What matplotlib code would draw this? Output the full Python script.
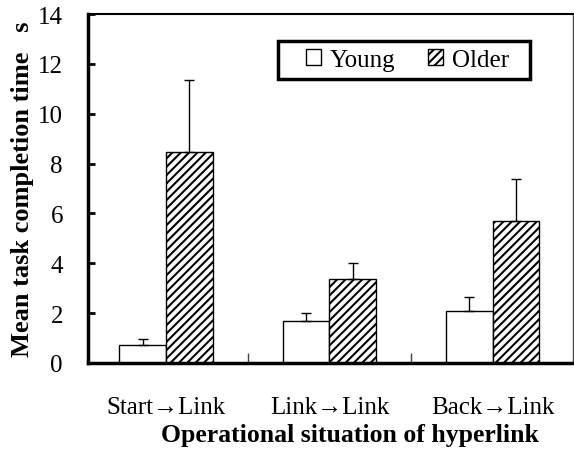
import numpy as np
import matplotlib.pyplot as plt
from matplotlib.patches import Rectangle

# Data
categories = ["Start\u2192Link", "Link\u2192Link", "Back\u2192Link"]
young = [0.72, 1.70, 2.08]
young_err = [0.24, 0.30, 0.57]
older = [8.47, 3.37, 5.70]
older_err = [2.90, 0.63, 1.67]

plt.rcParams['font.family'] = ['Liberation Serif', 'DejaVu Serif']
plt.rcParams['hatch.linewidth'] = 1.5
plt.rcParams['hatch.color'] = 'black'

fig = plt.figure(figsize=(5.74, 4.52), dpi=100)
ax = fig.add_axes([0.1533, 0.1947, 0.8447, 0.772])

x = np.arange(len(categories))
w = 0.285
err_kw = dict(elinewidth=1.0, capthick=1.0, ecolor='black')
ax.bar(x - w / 2, young, w, color='white', edgecolor='black', linewidth=1.0,
       yerr=[np.zeros(3), young_err], capsize=3.5, error_kw=err_kw, label='Young')
ax.bar(x + w / 2, older, w, color='white', edgecolor='black', linewidth=1.0,
       hatch='////', yerr=[np.zeros(3), older_err], capsize=3.5, error_kw=err_kw,
       label='Older')

ax.set_xlim(-0.477, 2.49)
ax.set_ylim(0, 14)
ax.set_yticks(range(0, 15, 2))
ax.set_xticks(x)
ax.set_xticklabels(categories)
ax.set_xticks([0.5, 1.5], minor=True)

ax.tick_params(axis='y', direction='in', length=5, width=2, labelsize=18, pad=18)
ax.tick_params(axis='x', which='major', length=0, labelsize=18, pad=24)
ax.tick_params(axis='x', which='minor', direction='in', length=7, width=1, color='#444444')

for s in ['left', 'bottom']:
    ax.spines[s].set_linewidth(2.5)
ax.spines['top'].set_linewidth(1.5)
ax.spines['right'].set_linewidth(1.0)
ax.spines['right'].set_color('#444444')

ax.set_ylabel("Mean task completion time   s", fontsize=19, fontweight='bold', labelpad=3)
ax.set_xlabel("Operational situation of hyperlink", fontsize=18.5, fontweight='bold')
ax.xaxis.set_label_coords(0.54, -0.172)

# legend box
ax.add_patch(Rectangle((0.392, 0.814), 0.519, 0.109, transform=ax.transAxes,
                       facecolor='white', edgecolor='black', linewidth=2.5, zorder=4))
leg = ax.legend(loc='center', bbox_to_anchor=(0.659, 0.868), ncol=2, fontsize=18,
                frameon=False, handlelength=0.6, handleheight=0.6, handletextpad=0.35,
                columnspacing=1.3, borderpad=0, borderaxespad=0)
leg.set_zorder(5)

fig.savefig('out.png', dpi=100)
